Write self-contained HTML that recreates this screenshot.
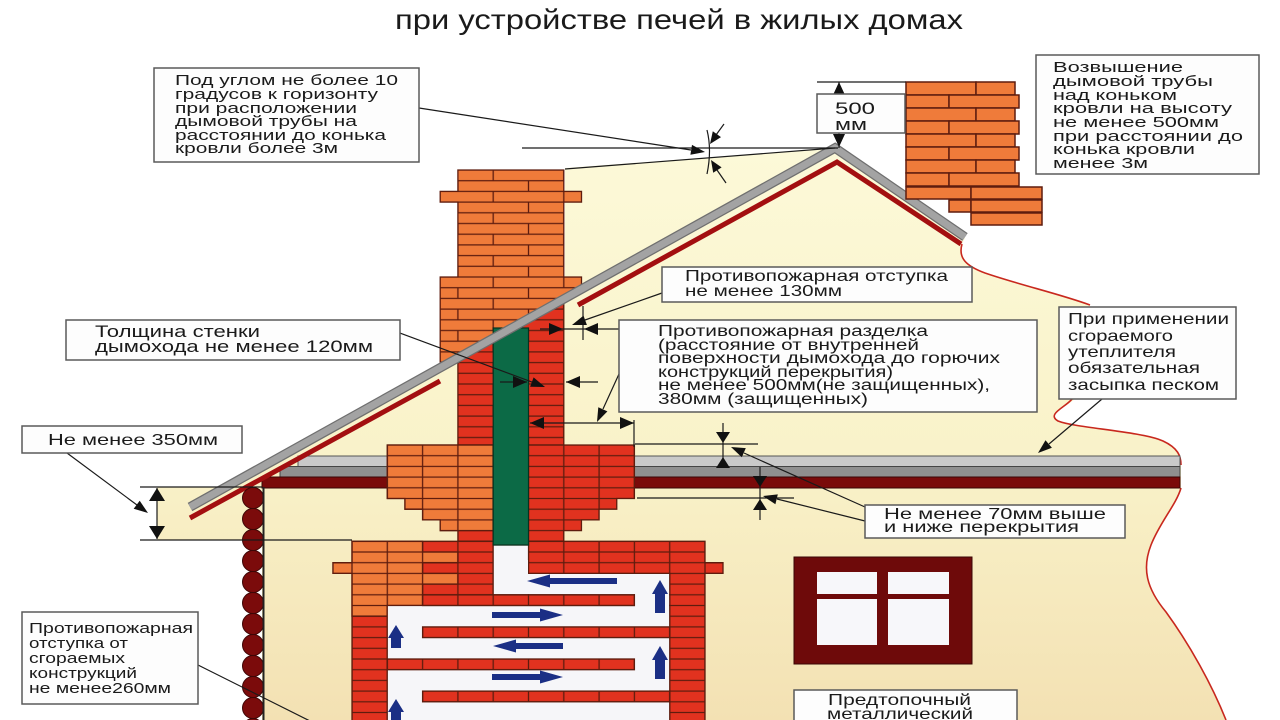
<!DOCTYPE html>
<html><head><meta charset="utf-8"><style>
html,body{margin:0;padding:0;background:#fff;}
svg{display:block;}
text{font-family:"Liberation Sans","Noto Sans CJK SC",sans-serif;fill:#1a1a1a;}
</style></head><body>
<svg width="1280" height="720" viewBox="0 0 1280 720" xmlns="http://www.w3.org/2000/svg">
<defs>
<linearGradient id="hg" x1="0" y1="150" x2="0" y2="720" gradientUnits="userSpaceOnUse">
<stop offset="0" stop-color="#fcf9d8"/>
<stop offset="0.55" stop-color="#f9f2c9"/>
<stop offset="1" stop-color="#f3e1b3"/>
</linearGradient>
<pattern id="pcO" x="457.9" y="170" width="70.6" height="21.4" patternUnits="userSpaceOnUse">
<rect width="70.6" height="21.4" fill="#ef7b3a"/>
<path d="M0 0H70.6M0 10.7H70.6M0 21.4H70.6M35.3 0V10.7M0 10.7V21.4M70.6 10.7V21.4" stroke="#5e1c0e" stroke-width="1.3" fill="none"/>
</pattern>
<pattern id="pcR" x="457.9" y="170" width="70.6" height="21.4" patternUnits="userSpaceOnUse">
<rect width="70.6" height="21.4" fill="#e1321f"/>
<path d="M0 0H70.6M0 10.7H70.6M0 21.4H70.6M35.3 0V10.7M0 10.7V21.4M70.6 10.7V21.4" stroke="#5e1c0e" stroke-width="1.3" fill="none"/>
</pattern>
<pattern id="psR" x="352" y="445" width="35.3" height="10.7" patternUnits="userSpaceOnUse">
<rect width="35.3" height="10.7" fill="#e1321f"/>
<path d="M0 0H35.3M0 10.7H35.3M0 0V10.7M35.3 0V10.7" stroke="#5e1c0e" stroke-width="1.3" fill="none"/>
</pattern>
<pattern id="psO" x="352" y="445" width="35.3" height="10.7" patternUnits="userSpaceOnUse">
<rect width="35.3" height="10.7" fill="#ef7b3a"/>
<path d="M0 0H35.3M0 10.7H35.3M0 0V10.7M35.3 0V10.7" stroke="#5e1c0e" stroke-width="1.3" fill="none"/>
</pattern>
<clipPath id="aboveRoof"><polygon points="0,0 1101,0 0,613"/></clipPath>
</defs>

<rect width="1280" height="720" fill="#fff"/>

<!-- house fill -->
<path d="M226,487 L565,298 L565,168 L835,148 L965,238 L962,244 C958,258 966,266 985,273 C1020,285 1060,294 1090,305 L1075,399 C1066,407 1046,414 1058,421 C1075,428 1140,431 1163,441 C1178,448 1181,456 1181,465 L1181,488 C1176,505 1160,522 1151,545 C1142,568 1146,588 1166,612 C1190,645 1212,685 1226,720 L262,720 L262,540 L157,540 L157,487 Z" fill="url(#hg)"/>
<path d="M962,244 C958,258 966,266 985,273 C1020,285 1060,294 1090,305 M1072,399 C1066,407 1046,414 1058,421 C1075,428 1140,431 1163,441 C1178,448 1181,456 1181,465 M1181,488 C1176,505 1160,522 1151,545 C1142,568 1146,588 1166,612 C1190,645 1212,685 1226,720" fill="none" stroke="#c8281e" stroke-width="1.6"/>

<!-- beam -->
<rect x="298" y="456" width="882" height="10.5" fill="#c9c9c9" stroke="#555" stroke-width="1"/>
<rect x="280" y="466.5" width="900" height="10.5" fill="#8f8f8f" stroke="#444" stroke-width="1"/>
<rect x="262" y="477" width="918" height="11" fill="#7a0a0a" stroke="#3a0505" stroke-width="1"/>

<!-- chimney red column -->
<rect x="457.9" y="280" width="105.9" height="165" fill="url(#pcR)" stroke="#5e1c0e" stroke-width="1.3"/>

<!-- corbel block -->
<polygon points="387.3,445 634.4,445 634.4,498.5 616.75,498.5 616.75,509.2 599.1,509.2 599.1,519.9 581.45,519.9 581.45,530.6 563.8,530.6 563.8,541.3 457.9,541.3 457.9,530.6 440.25,530.6 440.25,519.9 422.6,519.9 422.6,509.2 404.95,509.2 404.95,498.5 387.3,498.5" fill="url(#psR)" stroke="#5e1c0e" stroke-width="1.3"/>
<polygon points="387.3,445 493.2,445 493.2,530.6 440.25,530.6 440.25,519.9 422.6,519.9 422.6,509.2 404.95,509.2 404.95,498.5 387.3,498.5" fill="url(#psO)" stroke="#5e1c0e" stroke-width="1.3"/>

<!-- stove -->
<polygon points="352,541.3 705,541.3 705,562.7 723,562.7 723,573.4 705,573.4 705,722 352,722 352,573.4 333,573.4 333,562.7 352,562.7" fill="url(#psR)" stroke="#5e1c0e" stroke-width="1.3"/>
<polygon points="352,541.3 422.6,541.3 422.6,552 457.9,552 457.9,562.7 422.6,562.7 422.6,573.4 457.9,573.4 457.9,584.1 422.6,584.1 422.6,605.5 387.3,605.5 387.3,616.2 352,616.2 352,573.4 333,573.4 333,562.7 352,562.7" fill="url(#psO)" stroke="#5e1c0e" stroke-width="1.3"/>

<!-- channels -->
<g fill="#f6f6f9" stroke="#5e1c0e" stroke-width="1.2">
<rect x="493.2" y="545" width="35.3" height="49.8"/>
<rect x="528.5" y="573.4" width="141.2" height="21.4"/>
<rect x="634.4" y="594.8" width="35.3" height="10.7"/>
<rect x="387.3" y="605.5" width="282.4" height="117"/>
</g>
<rect x="494" y="574" width="140" height="20" fill="#f6f6f9"/>
<rect x="635" y="590" width="34" height="20" fill="#f6f6f9"/>
<rect x="494" y="560" width="34" height="34" fill="#f6f6f9"/>
<g fill="url(#psR)" stroke="#5e1c0e" stroke-width="1.3">
<rect x="422.6" y="594.8" width="211.8" height="10.7"/>
<rect x="422.6" y="626.9" width="247.1" height="10.7"/>
<rect x="387.3" y="659" width="247.1" height="10.7"/>
<rect x="422.6" y="691.1" width="247.1" height="10.7"/>
</g>

<!-- blue arrows -->
<g fill="#1b2f85">
<polygon points="527,581 550,574.5 550,578 617,578 617,584 550,584 550,587.5"/>
<polygon points="563,615 540,608.5 540,612 492,612 492,618 540,618 540,621.5"/>
<polygon points="493,646 516,639.5 516,643 563,643 563,649 516,649 516,652.5"/>
<polygon points="563,677 540,670.5 540,674 492,674 492,680 540,680 540,683.5"/>
<polygon points="660,580 668,594 665,594 665,613 655,613 655,594 652,594"/>
<polygon points="660,646 668,660 665,660 665,679 655,679 655,660 652,660"/>
<polygon points="396,625 404,638 401,638 401,648 391,648 391,638 388,638"/>
<polygon points="396,699 404,712 401,712 401,722 391,722 391,712 388,712"/>
</g>

<!-- upper chimney orange -->
<polygon clip-path="url(#aboveRoof)" points="457.9,170 563.8,170 563.8,191.4 581.5,191.4 581.5,202.1 563.8,202.1 563.8,277 581.5,277 581.5,362 440.2,362 440.2,277 457.9,277 457.9,202.1 440.2,202.1 440.2,191.4 457.9,191.4" fill="url(#pcO)" stroke="#5e1c0e" stroke-width="1.3"/>

<!-- green flue -->
<rect x="493.2" y="328" width="35.3" height="217" fill="#0c6a46" stroke="#08321f" stroke-width="1.2"/>

<!-- roof -->
<polyline points="190,507 835,148 965,237" fill="none" stroke="#6f6f6f" stroke-width="9.5" stroke-linejoin="miter"/>
<polyline points="190,507 835,148 965,237" fill="none" stroke="#a3a3a3" stroke-width="7" stroke-linejoin="miter"/>
<line x1="190" y1="518" x2="440" y2="381" stroke="#a30f10" stroke-width="5"/>
<polyline points="578,305 837,162 961,244" fill="none" stroke="#a30f10" stroke-width="5" stroke-linejoin="miter"/>

<!-- logs -->
<g fill="#7b0b0b" stroke="#3d0606" stroke-width="1">
<circle cx="253" cy="498" r="10.5"/><circle cx="253" cy="519" r="10.5"/><circle cx="253" cy="540" r="10.5"/>
<circle cx="253" cy="561" r="10.5"/><circle cx="253" cy="582" r="10.5"/><circle cx="253" cy="603" r="10.5"/>
<circle cx="253" cy="624" r="10.5"/><circle cx="253" cy="645" r="10.5"/><circle cx="253" cy="666" r="10.5"/>
<circle cx="253" cy="687" r="10.5"/><circle cx="253" cy="708" r="10.5"/><circle cx="253" cy="729" r="10.5"/>
</g>
<line x1="263.5" y1="487" x2="263.5" y2="720" stroke="#222" stroke-width="2"/>

<!-- window -->
<rect x="794" y="557" width="178" height="107" fill="#6e0a0a" stroke="#3a0505" stroke-width="1"/>
<g fill="#f7f7fa">
<rect x="817" y="572" width="60" height="22"/><rect x="888" y="572" width="61" height="22"/>
<rect x="817" y="599" width="60" height="46"/><rect x="888" y="599" width="61" height="46"/>
</g>

<!-- right chimney bricks -->
<g fill="#ef7b3a" stroke="#5e1c0e" stroke-width="1.5">
<rect x="906" y="82" width="70" height="13"/><rect x="976" y="82" width="39" height="13"/>
<rect x="906" y="95" width="43" height="13"/><rect x="949" y="95" width="70" height="13"/>
<rect x="906" y="108" width="70" height="13"/><rect x="976" y="108" width="39" height="13"/>
<rect x="906" y="121" width="43" height="13"/><rect x="949" y="121" width="70" height="13"/>
<rect x="906" y="134" width="70" height="13"/><rect x="976" y="134" width="39" height="13"/>
<rect x="906" y="147" width="43" height="13"/><rect x="949" y="147" width="70" height="13"/>
<rect x="906" y="160" width="70" height="13"/><rect x="976" y="160" width="39" height="13"/>
<rect x="906" y="173" width="43" height="13"/><rect x="949" y="173" width="70" height="13"/>
<rect x="906" y="187" width="65" height="12"/><rect x="971" y="187" width="71" height="12"/>
<rect x="949" y="200" width="22" height="12"/><rect x="971" y="200" width="71" height="12"/>
<rect x="971" y="213" width="71" height="12"/>
</g>

<!-- lines, dimensions, leaders -->
<g stroke="#1a1a1a" stroke-width="1.2" fill="none">
<line x1="522" y1="148" x2="838" y2="148"/>
<line x1="565" y1="169" x2="835" y2="148"/>
<line x1="419" y1="108" x2="691" y2="150"/>
<path d="M707,130 Q712,150 707,174"/>
<line x1="724" y1="124" x2="716" y2="135"/>
<line x1="726" y1="183" x2="717" y2="170"/>
<line x1="817" y1="82" x2="906" y2="82"/>
<line x1="839" y1="82" x2="839" y2="148"/>
<line x1="400" y1="333" x2="532" y2="382"/>
<line x1="662" y1="293" x2="585" y2="320"/>
<line x1="540" y1="329" x2="619" y2="329"/>
<line x1="583" y1="306" x2="583" y2="340"/>
<line x1="500" y1="382" x2="527" y2="382"/>
<line x1="566" y1="382" x2="598" y2="382"/>
<line x1="619" y1="374" x2="603" y2="409"/>
<line x1="530" y1="423" x2="634" y2="423"/>
<line x1="634" y1="420" x2="634" y2="447"/>
<line x1="1102" y1="399" x2="1049" y2="444"/>
<line x1="635" y1="444" x2="758" y2="444"/>
<line x1="723" y1="423" x2="723" y2="467"/>
<line x1="637" y1="498" x2="794" y2="498"/>
<line x1="760" y1="467" x2="760" y2="520"/>
<line x1="865" y1="507" x2="744" y2="453"/>
<line x1="865" y1="521" x2="777" y2="499"/>
<line x1="140" y1="487" x2="262" y2="487"/>
<line x1="140" y1="540" x2="352" y2="540"/>
<line x1="157" y1="488" x2="157" y2="539"/>
<line x1="67" y1="453" x2="137" y2="505"/>
<line x1="198" y1="665" x2="312" y2="722"/>
</g>
<g fill="#111">
<polygon points="705,152 690.4,154.8 692,144.9"/>
<polygon points="710,144 721,137.1 712.8,131.3"/>
<polygon points="711,160 721.6,167.4 713.2,172.8"/>
<polygon points="839,82 833,95 845,95"/>
<polygon points="839,147 833,134 845,134"/>
<polygon points="545,387 530.1,386.8 533.6,377.4"/>
<polygon points="572,325 583.5,315.6 586.9,325"/>
<polygon points="563,329 549,323 549,335"/>
<polygon points="584,329 598,323 598,335"/>
<polygon points="527,382 513,376 513,388"/>
<polygon points="566,382 580,376 580,388"/>
<polygon points="597,422 607.4,411.4 598.3,407.2"/>
<polygon points="530,423 544,417 544,429"/>
<polygon points="634,423 620,417 620,429"/>
<polygon points="1038,453 1051.9,447.8 1045.5,440.2"/>
<polygon points="723,443 716,432 730,432"/>
<polygon points="723,457 716,468 730,468"/>
<polygon points="760,487 753,476 767,476"/>
<polygon points="760,499 753,510 767,510"/>
<polygon points="731,447 745.8,448.1 741.8,457.3"/>
<polygon points="763,496 777.8,494.4 775.4,504.2"/>
<polygon points="157,488 149,501 165,501"/>
<polygon points="157,539 149,526 165,526"/>
<polygon points="148,513 133.7,508.7 139.7,500.7"/>
</g>

<!-- boxes -->
<g fill="#fdfdfd" stroke="#5a5a5a" stroke-width="1.5">
<rect x="154" y="68" width="265" height="94"/>
<rect x="1036" y="55" width="223" height="119"/>
<rect x="817" y="94" width="88" height="39"/>
<rect x="662" y="267" width="310" height="35"/>
<rect x="619" y="320" width="418" height="92"/>
<rect x="66" y="320" width="334" height="40"/>
<rect x="1059" y="307" width="177" height="92"/>
<rect x="22" y="426" width="220" height="27"/>
<rect x="865" y="505" width="260" height="33"/>
<rect x="22" y="612" width="176" height="92"/>
<rect x="794" y="690" width="223" height="40"/>
</g>

<!-- texts -->
<g>
<text x="175" y="85" font-size="15" textLength="223" lengthAdjust="spacingAndGlyphs">Под углом не более 10</text>
<text x="175" y="99" font-size="15" textLength="203" lengthAdjust="spacingAndGlyphs">градусов к горизонту</text>
<text x="175" y="113" font-size="15" textLength="182" lengthAdjust="spacingAndGlyphs">при расположении</text>
<text x="175" y="126" font-size="15" textLength="182" lengthAdjust="spacingAndGlyphs">дымовой трубы на</text>
<text x="175" y="140" font-size="15" textLength="211" lengthAdjust="spacingAndGlyphs">расстоянии до конька</text>
<text x="175" y="153" font-size="15" textLength="163" lengthAdjust="spacingAndGlyphs">кровли более 3м</text>

<text x="1053" y="72" font-size="15" textLength="130" lengthAdjust="spacingAndGlyphs">Возвышение</text>
<text x="1053" y="86" font-size="15" textLength="160" lengthAdjust="spacingAndGlyphs">дымовой трубы</text>
<text x="1053" y="100" font-size="15" textLength="124" lengthAdjust="spacingAndGlyphs">над коньком</text>
<text x="1053" y="113" font-size="15" textLength="179" lengthAdjust="spacingAndGlyphs">кровли на высоту</text>
<text x="1053" y="127" font-size="15" textLength="166" lengthAdjust="spacingAndGlyphs">не менее 500мм</text>
<text x="1053" y="141" font-size="15" textLength="190" lengthAdjust="spacingAndGlyphs">при расстоянии до</text>
<text x="1053" y="154" font-size="15" textLength="142" lengthAdjust="spacingAndGlyphs">конька кровли</text>
<text x="1053" y="168" font-size="15" textLength="95" lengthAdjust="spacingAndGlyphs">менее 3м</text>

<text x="835" y="114" font-size="17" textLength="40" lengthAdjust="spacingAndGlyphs">500</text>
<text x="835" y="130" font-size="17" textLength="32" lengthAdjust="spacingAndGlyphs">мм</text>

<text x="685" y="281" font-size="16" textLength="263" lengthAdjust="spacingAndGlyphs">Противопожарная отступка</text>
<text x="685" y="296" font-size="16" textLength="157" lengthAdjust="spacingAndGlyphs">не менее 130мм</text>

<text x="658" y="336" font-size="15.5" textLength="270" lengthAdjust="spacingAndGlyphs">Противопожарная разделка</text>
<text x="658" y="350" font-size="15.5" textLength="261" lengthAdjust="spacingAndGlyphs">(расстояние от внутренней</text>
<text x="658" y="363" font-size="15.5" textLength="342" lengthAdjust="spacingAndGlyphs">поверхности дымохода до горючих</text>
<text x="658" y="377" font-size="15.5" textLength="235" lengthAdjust="spacingAndGlyphs">конструкций перекрытия)</text>
<text x="658" y="390" font-size="15.5" textLength="332" lengthAdjust="spacingAndGlyphs">не менее 500мм(не защищенных),</text>
<text x="658" y="404" font-size="15.5" textLength="210" lengthAdjust="spacingAndGlyphs">380мм (защищенных)</text>

<text x="95" y="337" font-size="17" textLength="165" lengthAdjust="spacingAndGlyphs">Толщина стенки</text>
<text x="95" y="352" font-size="17" textLength="278" lengthAdjust="spacingAndGlyphs">дымохода не менее 120мм</text>

<text x="1068" y="324" font-size="16" textLength="161" lengthAdjust="spacingAndGlyphs">При применении</text>
<text x="1068" y="341" font-size="16" textLength="105" lengthAdjust="spacingAndGlyphs">сгораемого</text>
<text x="1068" y="357" font-size="16" textLength="108" lengthAdjust="spacingAndGlyphs">утеплителя</text>
<text x="1068" y="373" font-size="16" textLength="132" lengthAdjust="spacingAndGlyphs">обязательная</text>
<text x="1068" y="390" font-size="16" textLength="151" lengthAdjust="spacingAndGlyphs">засыпка песком</text>

<text x="48" y="445" font-size="16" textLength="170" lengthAdjust="spacingAndGlyphs">Не менее 350мм</text>

<text x="884" y="519" font-size="15.5" textLength="222" lengthAdjust="spacingAndGlyphs">Не менее 70мм выше</text>
<text x="884" y="532" font-size="15.5" textLength="195" lengthAdjust="spacingAndGlyphs">и ниже перекрытия</text>

<text x="29" y="633" font-size="15" textLength="164" lengthAdjust="spacingAndGlyphs">Противопожарная</text>
<text x="29" y="648" font-size="15" textLength="99" lengthAdjust="spacingAndGlyphs">отступка от</text>
<text x="29" y="663" font-size="15" textLength="96" lengthAdjust="spacingAndGlyphs">сгораемых</text>
<text x="29" y="678" font-size="15" textLength="108" lengthAdjust="spacingAndGlyphs">конструкций</text>
<text x="29" y="693" font-size="15" textLength="142" lengthAdjust="spacingAndGlyphs">не менее260мм</text>

<text x="828" y="705" font-size="16" textLength="143" lengthAdjust="spacingAndGlyphs">Предтопочный</text>
<text x="827" y="719" font-size="16" textLength="146" lengthAdjust="spacingAndGlyphs">металлический</text>
</g>

<text x="395" y="29" font-size="28" textLength="568" lengthAdjust="spacingAndGlyphs">при устройстве печей в жилых домах</text>
</svg>
</body></html>
